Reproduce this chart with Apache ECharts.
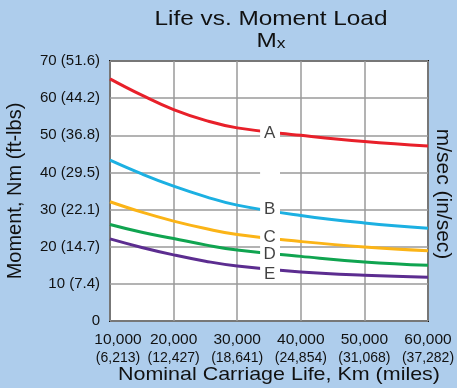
<!DOCTYPE html>
<html>
<head>
<meta charset="utf-8">
<title>Life vs. Moment Load</title>
<script src="https://cdn.jsdelivr.net/npm/echarts@6/dist/echarts.min.js"></script>
<style>
  html, body { margin: 0; padding: 0; background: #aecdec; }
  #chart { width: 457px; height: 388px; }
</style>
</head>
<body>
<div id="chart"></div>
<script>
// Nominal carriage life (km) sample points
const lifeKm = [10000, 15000, 20000, 25000, 30000, 40000, 50000, 60000];

// Allowed moment Mx (Nm) per speed curve
const curveA = [65.2, 60.8, 56.9, 54.0, 52.0, 50.0, 48.3, 47.1];
const curveB = [43.3, 39.6, 36.3, 33.5, 31.2, 28.4, 26.4, 25.0];
const curveC = [32.1, 29.3, 26.9, 24.9, 23.3, 21.4, 19.9, 18.9];
const curveD = [26.0, 23.9, 22.2, 20.5, 19.1, 17.4, 15.9, 15.0];
const curveE = [22.1, 19.8, 17.8, 16.1, 14.8, 13.2, 12.3, 11.8];

const curveNames = ['A', 'B', 'C', 'D', 'E'];
const curveColors = ['#e8202a', '#1cb0e2', '#fbb417', '#10a450', '#5c2d90'];

// Where each curve letter sits
const letterX = 35100;
const letterY = [50.6, 30.2, 22.6, 17.9, 12.7];

// Tick labels
const yTickLabels = ['0', '10 (7.4)', '20 (14.7)', '30 (22.1)', '40 (29.5)', '50 (36.8)', '60 (44.2)', '70 (51.6)'];
const xTickKm = ['10,000', '20,000', '30,000', '40,000', '50,000', '60,000'];
const xTickMiles = ['(6,213)', '(12,427)', '(18,641)', '(24,854)', '(31,068)', '(37,282)'];

const narrow = '"Liberation Sans Narrow", "Arial Narrow", "Liberation Sans", Arial, sans-serif';
const regular = '"Liberation Sans", Arial, Helvetica, sans-serif';
const ink = '#111';

const curves = [curveA, curveB, curveC, curveD, curveE];

const lineSeries = curves.map((vals, i) => ({
  name: curveNames[i],
  type: 'line',
  data: lifeKm.map((x, j) => [x, vals[j]]),
  smooth: 0.45,
  symbol: 'none',
  z: 3,
  lineStyle: { color: curveColors[i], width: 3 }
}));

const chart = echarts.init(document.getElementById('chart'), null, { renderer: 'canvas' });

chart.setOption({
  backgroundColor: '#aecdec',
  animation: false,
  graphic: [
    {
      type: 'text', x: 271, y: 19, scaleX: 1.16,
      style: {
        text: 'Life vs. Moment Load', fill: ink,
        font: 'normal 21px "Liberation Sans", Arial, sans-serif',
        textAlign: 'center', textVerticalAlign: 'middle'
      }
    },
    {
      type: 'text', x: 271, y: 41, scaleX: 1.16,
      style: {
        text: '{m|M}{s|x}', fill: ink,
        textAlign: 'center', textVerticalAlign: 'middle',
        rich: {
          m: { fontFamily: regular, fontSize: 21, fill: ink },
          s: { fontFamily: regular, fontSize: 15, fill: ink, padding: [6, 0, 0, 0] }
        }
      }
    },
    {
      type: 'text', x: 279, y: 375, scaleX: 1.16,
      style: {
        text: 'Nominal Carriage Life, Km (miles)', fill: ink,
        font: 'normal 18.5px "Liberation Sans", Arial, sans-serif',
        textAlign: 'center', textVerticalAlign: 'middle'
      }
    },
    {
      type: 'text', x: 443, y: 194, rotation: -Math.PI / 2,
      style: {
        text: 'm/sec (in/sec)', fill: ink,
        font: 'normal 21px "Liberation Sans", Arial, sans-serif',
        textAlign: 'center', textVerticalAlign: 'middle'
      }
    }
  ],
  grid: {
    left: 110, right: 29, top: 61, bottom: 67,
    outerBoundsMode: 'none',
    containLabel: false,
    show: true, backgroundColor: '#ffffff',
    borderColor: ink, borderWidth: 2
  },
  xAxis: {
    type: 'value',
    min: 10000, max: 60000, interval: 10000,
    axisLine: { show: false },
    axisTick: { show: false },
    splitLine: { lineStyle: { color: '#9a9a9a', width: 1.5 } },
    axisLabel: {
      margin: 9,
      formatter: (v) => {
        const i = Math.round((v - 10000) / 10000);
        const sfx = i === 0 ? '0' : '';
        return '{a' + sfx + '|' + xTickKm[i] + '}\n{b' + sfx + '|' + xTickMiles[i] + '}';
      },
      rich: {
        a: { fontFamily: narrow, fontSize: 15.5, color: ink, lineHeight: 19 },
        b: { fontFamily: narrow, fontSize: 14, color: ink, lineHeight: 18 },
        a0: { fontFamily: narrow, fontSize: 15.5, color: ink, lineHeight: 19, padding: [0, 0, 0, 16] },
        b0: { fontFamily: narrow, fontSize: 14, color: ink, lineHeight: 18, padding: [0, 0, 0, 16] }
      }
    }
  },
  yAxis: {
    type: 'value',
    min: 0, max: 70, interval: 10,
    name: 'Moment, Nm (ft-lbs)',
    nameLocation: 'middle',
    nameGap: 85,
    nameTextStyle: { fontFamily: regular, fontSize: 20, color: ink },
    axisLine: { show: false },
    axisTick: { show: false },
    splitLine: { lineStyle: { color: '#9a9a9a', width: 1.5 } },
    axisLabel: {
      margin: 10,
      fontFamily: narrow, fontSize: 15, color: ink,
      formatter: (v) => yTickLabels[Math.round(v / 10)]
    }
  },
  series: [
    ...lineSeries,
    {
      // white band that opens a gap in the curves for the letters
      type: 'line',
      data: [],
      z: 5,
      markArea: {
        silent: true,
        z: 5,
        itemStyle: { color: '#ffffff', opacity: 1 },
        data: [[{ coord: [33600, 52.8] }, { coord: [36730, 11.5] }]]
      }
    },
    {
      type: 'scatter',
      z: 10,
      symbolSize: 0,
      data: letterY.map((y, i) => ({ value: [letterX, y], name: curveNames[i] })),
      label: {
        show: true,
        position: 'inside',
        formatter: (p) => p.name,
        fontFamily: narrow, fontSize: 17, color: ink
      }
    }
  ]
});
</script>
</body>
</html>
